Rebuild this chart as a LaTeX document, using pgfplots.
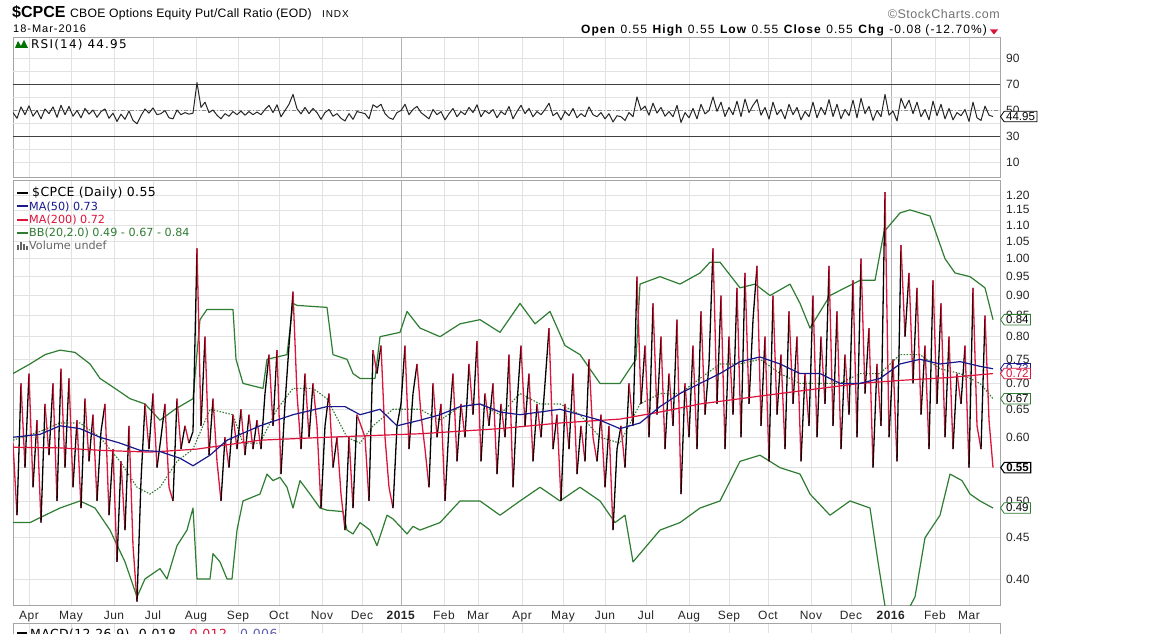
\documentclass[border=0pt]{standalone}
\usepackage{pgfplots}
\usepackage{pgfplotstable}
\pgfplotsset{compat=1.18}
\usepackage{fontspec}
\setmainfont{Liberation Sans}
\newfontfamily\verd{DejaVu Sans}
\newfontfamily\verdL[LetterSpace=3]{DejaVu Sans}
\newfontfamily\verdW[LetterSpace=10]{DejaVu Sans}
\newfontfamily\hdr[LetterSpace=9]{Liberation Sans}
\newfontfamily\scsp[LetterSpace=4]{Liberation Sans}
\newfontfamily\scspa[LetterSpace=2]{Liberation Sans}
\usetikzlibrary{shapes.symbols}
\definecolor{scred}{RGB}{220,20,60}
\definecolor{scblue}{RGB}{25,25,140}
\definecolor{scgreen}{RGB}{46,125,50}
\definecolor{gridc}{RGB}{226,226,226}
\definecolor{borderc}{RGB}{165,165,165}
\definecolor{volg}{RGB}{100,100,100}

% ---------- data ----------
\pgfplotstableread{
i y
0 0.59
2 0.48
4 0.70
6 0.55
8 0.72
10 0.52
12 0.63
14 0.47
16 0.66
18 0.57
20 0.70
22 0.50
24 0.73
26 0.55
28 0.71
30 0.52
32 0.63
34 0.49
36 0.67
38 0.56
40 0.64
42 0.50
44 0.61
46 0.66
48 0.48
50 0.58
52 0.42
54 0.56
56 0.46
58 0.62
60 0.44
62 0.375
64 0.53
66 0.66
68 0.58
70 0.68
72 0.55
74 0.60
76 0.66
78 0.52
80 0.50
82 0.67
84 0.58
86 0.62
88 0.59
90 0.61
92 1.03
94 0.62
96 0.80
98 0.57
100 0.67
102 0.56
104 0.50
106 0.60
108 0.55
110 0.64
112 0.58
114 0.65
116 0.57
118 0.64
120 0.58
122 0.63
124 0.58
126 0.68
128 0.76
130 0.62
132 0.77
134 0.54
136 0.66
138 0.78
140 0.91
142 0.68
144 0.58
146 0.72
148 0.60
150 0.70
152 0.62
154 0.49
156 0.62
158 0.68
160 0.55
162 0.60
164 0.51
166 0.46
168 0.60
170 0.49
172 0.64
174 0.62
176 0.60
178 0.50
180 0.77
182 0.72
184 0.78
186 0.60
188 0.52
190 0.49
192 0.62
194 0.66
196 0.78
198 0.58
200 0.68
202 0.74
204 0.64
206 0.58
208 0.52
210 0.70
212 0.60
214 0.66
216 0.50
218 0.62
220 0.72
222 0.56
224 0.66
226 0.60
228 0.74
230 0.64
232 0.79
234 0.56
236 0.68
238 0.62
240 0.70
242 0.54
244 0.66
246 0.60
248 0.76
250 0.52
252 0.66
254 0.78
256 0.62
258 0.72
260 0.56
262 0.66
264 0.60
266 0.70
268 0.82
270 0.58
272 0.64
274 0.50
276 0.66
278 0.58
280 0.72
282 0.54
284 0.62
286 0.56
288 0.75
290 0.60
292 0.56
294 0.64
296 0.52
298 0.62
300 0.46
302 0.58
304 0.62
306 0.55
308 0.70
310 0.62
312 0.95
314 0.66
316 0.78
318 0.60
320 0.88
322 0.64
324 0.80
326 0.58
328 0.72
330 0.62
332 0.84
334 0.51
336 0.70
338 0.60
340 0.78
342 0.58
344 0.86
346 0.64
348 0.74
350 1.03
352 0.66
354 0.90
356 0.58
358 0.80
360 0.64
362 0.92
364 0.60
366 0.96
368 0.66
370 0.84
372 0.98
374 0.62
376 0.80
378 0.56
380 0.90
382 0.64
384 0.76
386 0.58
388 0.86
390 0.66
392 0.80
394 0.56
396 0.72
398 0.62
400 0.90
402 0.60
404 0.80
406 0.66
408 0.98
410 0.62
412 0.86
414 0.58
416 0.76
418 0.64
420 0.94
422 0.60
424 1.00
426 0.68
428 0.82
430 0.55
432 0.74
434 0.62
436 1.21
438 0.60
440 0.75
442 0.56
444 1.04
446 0.80
448 0.96
450 0.70
452 0.92
454 0.64
456 0.78
458 0.58
460 0.94
462 0.66
464 0.88
466 0.60
468 0.80
470 0.58
472 0.72
474 0.66
476 0.78
478 0.55
480 0.92
482 0.62
484 0.58
486 0.85
488 0.63
490 0.55
}\price

\pgfplotstablecreatecol[
  create col/assign/.code={%
    \getthisrow{y}\cur
    \getnextrow{y}\nxt
    \edef\tmpn{\nxt}%
    \ifx\tmpn\empty
      \def\res{0}%
    \else
      \pgfmathparse{(\nxt<\cur)}\let\res\pgfmathresult
    \fi
    \pgfkeyslet{/pgfplots/table/create col/next content}\res
  }]{c}\price

\pgfplotstableread{
i r
0 48
2 43.6
4 52.4
6 46.4
8 53.2
10 45.2
12 49.6
14 43.2
16 50.8
18 47.2
20 52.4
22 44.4
24 53.6
26 46.4
28 52.8
30 45.2
32 49.6
34 44
36 51.2
38 46.8
40 50
42 44.4
44 48.8
46 50.8
48 43.6
50 47.6
52 41.2
54 46.8
56 42.8
58 49.2
60 42
62 39.4
64 45.6
66 50.8
68 47.6
70 51.6
72 46.4
74 47.2
76 49.6
78 44
80 43.2
82 50
84 46.4
86 48
88 46.8
90 47.6
92 71
94 52
96 56
98 48
100 50
102 46
104 43.2
106 47.2
108 45.2
110 48.8
112 46.4
114 49.2
116 46
118 48.8
120 46.4
122 48.4
124 46.4
126 50.4
128 53.6
130 48
132 54
134 44.8
136 49.6
138 54.4
140 62
142 51
144 47
146 52
148 47.2
150 51.2
152 48
154 42.8
156 48
158 50.4
160 45.2
162 47.2
164 43.6
166 41.6
168 47.2
170 42.8
172 48.8
174 48
176 47.2
178 43.2
180 54
182 52
184 54.4
186 47.2
188 44
190 42.8
192 48
194 49.6
196 54.4
198 46.4
200 50.4
202 52.8
204 48
206 45.6
208 43.2
210 50.4
212 46.4
214 48.8
216 42.4
218 47.2
220 51.2
222 44.8
224 48.8
226 46.4
228 52
230 48
232 54
234 44.8
236 49.6
238 47.2
240 50.4
242 44
244 48.8
246 46.4
248 52.8
250 43.2
252 48.8
254 53.6
256 47.2
258 51.2
260 44.8
262 48.8
264 46.4
266 50.4
268 55.2
270 45.6
272 48
274 42.4
276 48.8
278 45.6
280 51.2
282 44
284 47.2
286 44.8
288 52.4
290 46.4
292 44.8
294 48
296 43.2
298 47.2
300 40.8
302 45.6
304 44.8
306 42
308 48
310 44.8
312 60
314 50
316 53
318 46
320 55.2
322 47.6
324 52
326 45.2
328 48.8
330 44.8
332 53.6
334 40.4
336 48
338 44
340 51.2
342 43.2
344 54.4
346 47
348 49.6
350 60
352 49
354 56
356 45
358 52
360 46.4
362 56.8
364 45
366 58.4
368 48
370 53.6
372 58
374 46
376 52
378 43
380 56
382 46.4
384 50.4
386 43.2
388 54.4
390 46.4
392 52
394 42.4
396 48.8
398 44.8
400 56
402 44
404 52
406 46.4
408 58
410 45
412 54.4
414 43.2
416 50.4
418 45.6
420 57.6
422 44
424 59
426 47.2
428 52.8
430 42
432 49.6
434 44.8
436 62
438 46
440 49.2
442 41.6
444 59
446 51.2
448 57.6
450 47.2
452 56
454 44.8
456 50.4
458 42.4
460 56.8
462 45.6
464 54.4
466 43.2
468 51.2
470 42.4
472 48
474 45.6
476 50.4
478 41.2
480 56
482 44
484 42
486 53
488 46
490 44.95
}\rsi

\pgfplotstableread{
p v
13 0.583
60 0.582
100 0.578
150 0.575
197 0.580
260 0.595
327 0.600
420 0.606
500 0.615
560 0.625
620 0.632
660 0.645
700 0.660
760 0.675
800 0.685
860 0.700
900 0.706
950 0.712
993 0.720
}\matwo

\pgfplotstableread{
p v
13 0.600
40 0.605
60 0.620
80 0.615
100 0.600
120 0.590
140 0.578
160 0.576
180 0.565
193 0.553
210 0.570
227 0.595
260 0.620
293 0.640
327 0.655
345 0.655
360 0.640
380 0.650
397 0.620
420 0.630
440 0.640
460 0.655
480 0.660
500 0.645
520 0.640
540 0.645
560 0.650
580 0.640
600 0.630
620 0.615
640 0.625
660 0.655
680 0.680
700 0.700
720 0.720
740 0.745
760 0.755
780 0.740
800 0.720
820 0.720
840 0.700
860 0.700
880 0.710
900 0.740
920 0.750
940 0.740
960 0.745
980 0.735
993 0.730
}\mafif

\pgfplotstableread{
p v
13 0.72
30 0.74
45 0.76
60 0.77
75 0.765
90 0.74
100 0.71
115 0.69
130 0.67
145 0.66
160 0.63
175 0.65
193 0.67
200 0.84
207 0.865
233 0.865
236 0.75
243 0.70
263 0.69
267 0.75
287 0.76
293 0.88
297 0.875
327 0.87
333 0.76
347 0.75
353 0.72
360 0.71
375 0.71
380 0.80
400 0.81
407 0.86
420 0.82
440 0.80
460 0.83
480 0.84
500 0.81
520 0.88
535 0.83
550 0.86
565 0.78
580 0.76
600 0.70
620 0.70
636 0.75
640 0.93
660 0.95
680 0.93
700 0.96
710 0.99
720 0.99
740 0.92
755 0.93
770 0.90
790 0.93
800 0.88
810 0.82
830 0.90
845 0.92
860 0.94
875 0.94
884 1.08
900 1.14
910 1.15
930 1.13
945 1.00
955 0.96
970 0.95
985 0.92
993 0.84
}\bbup

\pgfplotstableread{
p v
13 0.47
30 0.47
45 0.48
60 0.49
80 0.50
95 0.49
110 0.46
125 0.42
137 0.38
145 0.40
160 0.412
167 0.40
177 0.44
187 0.46
193 0.49
197 0.40
210 0.40
213 0.43
220 0.42
227 0.40
232 0.40
237 0.46
243 0.50
260 0.51
267 0.54
273 0.53
280 0.535
287 0.52
293 0.49
300 0.53
310 0.51
320 0.49
327 0.487
343 0.485
347 0.46
353 0.455
360 0.47
370 0.46
377 0.44
387 0.48
393 0.475
400 0.465
407 0.455
413 0.465
420 0.46
440 0.47
460 0.50
480 0.50
500 0.48
520 0.50
540 0.52
560 0.50
580 0.52
600 0.50
615 0.47
625 0.48
633 0.42
640 0.43
660 0.46
680 0.47
700 0.49
720 0.50
740 0.56
760 0.57
780 0.55
800 0.54
810 0.51
830 0.48
850 0.50
870 0.49
878 0.42
885 0.37
893 0.35
905 0.36
915 0.38
925 0.45
940 0.48
950 0.54
962 0.53
970 0.51
980 0.50
993 0.49
}\bblo

\pgfplotstableread{
p v
13 0.595
40 0.61
60 0.625
80 0.625
100 0.60
120 0.56
137 0.52
150 0.51
160 0.52
177 0.56
193 0.58
210 0.65
233 0.64
243 0.59
260 0.59
277 0.65
293 0.69
313 0.69
327 0.67
347 0.60
360 0.59
373 0.62
393 0.65
420 0.65
440 0.63
460 0.655
480 0.66
500 0.64
520 0.68
540 0.66
560 0.66
580 0.64
600 0.60
620 0.59
640 0.66
660 0.68
680 0.68
700 0.71
720 0.74
740 0.74
760 0.75
780 0.72
800 0.70
820 0.70
840 0.70
860 0.72
880 0.72
900 0.76
920 0.76
940 0.73
960 0.72
980 0.70
993 0.67
}\bbmid

\tikzset{
  tag/.style={signal, signal to=west, signal pointer angle=110, draw=#1, fill=white,
    line width=0.8pt, inner ysep=1.2pt, inner xsep=2pt,
    font=\fontsize{11.5}{11.5}\selectfont, anchor=west},
}
\pgfplotsset{
  scpanel/.style={
    scale only axis, width=987pt, xmin=0, xmax=493.5,
    xtick={8,29,50.5,70,91.5,112.5,133,154.5,174.5,194,215.5,232.5,254.5,275,296,316.5,338,358,377.5,399,419,439,461,478},
    grid=major, major grid style={draw=gridc, line width=0.6pt},
    major tick length=0pt, tick style={draw=none},
    axis line style={draw=borderc, line width=0.7pt},
    extra x ticks={194,439}, extra x tick labels={},
    extra x tick style={grid=major, major grid style={draw=black!30, line width=0.7pt}},
    yticklabel pos=right,
    yticklabel style={anchor=west, xshift=6pt, inner sep=0pt, font=\fontsize{12}{12}\selectfont, text=black!85},
    clip mode=individual,
  },
}

\begin{document}
\begin{tikzpicture}
\begin{scope}
\clip (0pt,0pt) rectangle (1158pt,633pt);
\fill[white] (0pt,0pt) rectangle (1158pt,633pt);

% ---------- header ----------
\node[anchor=base west, inner sep=0] at (12pt,615.7pt) {\fontsize{16}{16}\selectfont\bfseries \$CPCE};
\node[anchor=base west, inner sep=0] at (70pt,615.7pt) {\scspa\fontsize{12.2}{12.2}\selectfont CBOE Options Equity Put/Call Ratio (EOD)};
\node[anchor=base west, inner sep=0] at (322pt,615.7pt) {\hdr\fontsize{10}{10}\selectfont INDX};
\node[anchor=base west, inner sep=0] at (13pt,600pt) {\hdr\fontsize{11}{11}\selectfont 18-Mar-2016};
\node[anchor=base east, inner sep=0, text=black!55] at (1000pt,614pt) {\scsp\fontsize{12.5}{12.5}\selectfont ©StockCharts.com};
\node[anchor=base east, inner sep=0] at (987pt,599pt) {\hdr\fontsize{12}{12}\selectfont \textbf{Open} 0.55\ \textbf{High} 0.55\ \textbf{Low} 0.55\ \textbf{Close} 0.55\ \textbf{Chg} -0.08 (-12.70\%)};
\fill[scred] (990pt,603.5pt) -- (998pt,603.5pt) -- (994pt,598.5pt) -- cycle;

% ---------- RSI panel ----------
\begin{axis}[scpanel, at={(13pt,456pt)}, anchor=south west, height=140pt,
  ymin=-1.54, ymax=106.15, xticklabels={},
  ytick={10,30,50,70,90}, yticklabels={10,30,50,70,90},
  extra y ticks={20,40,60,80}, extra y tick labels={},
]
\draw[black!75, line width=0.8pt] (axis cs:0,70) -- (axis cs:493.5,70);
\draw[black!75, line width=0.8pt] (axis cs:0,30) -- (axis cs:493.5,30);
\draw[black!45, line width=0.6pt, dash pattern=on 4pt off 2pt on 1pt off 2pt] (axis cs:0,50) -- (axis cs:493.5,50);
\addplot[black!85, line width=1pt, line join=round] table[x=i, y=r] {\rsi};
\node[tag=black] at (axis cs:493.5,44.95) {44.95};
\end{axis}
% RSI label
\fill[green!45!black] (15pt,585pt) -- (18pt,592pt) -- (21pt,587pt) -- (24pt,593pt) -- (28pt,585pt) -- cycle;
\node[anchor=base west, inner sep=0] at (31pt,584pt) {\verdW\fontsize{12}{12}\selectfont RSI(14) 44.95};

% ---------- main panel ----------
\begin{axis}[scpanel, at={(13pt,28pt)}, anchor=south west, height=425pt,
  ymode=log, ymin=0.3713, ymax=1.2526,
  ytick={0.40,0.45,0.50,0.55,0.60,0.65,0.70,0.75,0.80,0.85,0.90,0.95,1.00,1.05,1.10,1.15,1.20},
  yticklabels={0.40,0.45,0.50,0.55,0.60,0.65,0.70,0.75,0.80,0.85,0.90,0.95,1.00,1.05,1.10,1.15,1.20},
  xticklabels={Apr,May,Jun,Jul,Aug,Sep,Oct,Nov,Dec,\textbf{2015},Feb,Mar,Apr,May,Jun,Jul,Aug,Sep,Oct,Nov,Dec,\textbf{2016},Feb,Mar},
  xticklabel style={anchor=base, yshift=-14pt, inner sep=0pt, font=\scsp\fontsize{12}{12}\selectfont, text=black!85},
  point meta min=0, point meta max=1,
  colormap={updown}{color=(black) color=(scred)},
]
\addplot[scgreen, line width=1.2pt, line join=round] table[x expr=(\thisrow{p}-13)/2, y=v] {\bbup};
\addplot[scgreen, line width=1.2pt, line join=round] table[x expr=(\thisrow{p}-13)/2, y=v] {\bblo};
\addplot[scgreen, line width=1.1pt, dash pattern=on 1.5pt off 1.5pt] table[x expr=(\thisrow{p}-13)/2, y=v] {\bbmid};
\addplot[mesh, shader=flat corner, point meta=\thisrow{c}, line width=1.3pt, line join=round] table[x=i, y=y] {\price};
\addplot[scred, line width=1.2pt] table[x expr=(\thisrow{p}-13)/2, y=v] {\matwo};
\addplot[scblue, line width=1.2pt] table[x expr=(\thisrow{p}-13)/2, y=v] {\mafif};
\node[tag=scgreen] at (axis cs:493.5,0.84) {0.84};
\node[tag=scblue, text=scblue] at (axis cs:493.5,0.73) {0.73};
\node[tag=scred, text=scred] at (axis cs:493.5,0.72) {0.72};
\node[tag=scgreen] at (axis cs:493.5,0.67) {0.67};
\node[tag=black, line width=1.1pt, font=\fontsize{11.5}{11.5}\selectfont\bfseries] at (axis cs:493.5,0.55) {0.55};
\node[tag=scgreen] at (axis cs:493.5,0.49) {0.49};
\end{axis}

% legend of main panel
\draw[black, line width=2pt] (17pt,440pt) -- (28pt,440pt);
\node[anchor=base west, inner sep=0] at (32pt,436.3pt) {\verdL\fontsize{12.5}{12.5}\selectfont \$CPCE (Daily) 0.55};
\draw[scblue, line width=2pt] (17pt,426.7pt) -- (28pt,426.7pt);
\node[anchor=base west, inner sep=0, text=scblue] at (29pt,423pt) {\verd\fontsize{11.2}{11.2}\selectfont MA(50) 0.73};
\draw[scred, line width=2pt] (17pt,413.4pt) -- (28pt,413.4pt);
\node[anchor=base west, inner sep=0, text=scred] at (29pt,409.7pt) {\verd\fontsize{11.2}{11.2}\selectfont MA(200) 0.72};
\draw[scgreen, line width=2pt] (17pt,400.1pt) -- (28pt,400.1pt);
\node[anchor=base west, inner sep=0, text=scgreen] at (29pt,396.4pt) {\verd\fontsize{11.2}{11.2}\selectfont BB(20,2.0) 0.49 - 0.67 - 0.84};
\fill[volg] (17pt,383.3pt) rectangle (19pt,388pt);
\fill[volg] (20pt,383.3pt) rectangle (22pt,391pt);
\fill[volg] (23pt,383.3pt) rectangle (25pt,389.5pt);
\fill[volg] (26pt,383.3pt) rectangle (28pt,387pt);
\node[anchor=base west, inner sep=0, text=volg] at (29pt,383.1pt) {\verd\fontsize{11.2}{11.2}\selectfont Volume undef};

% ---------- MACD panel (top edge only visible) ----------
\foreach \t in {8,29,50.5,70,91.5,112.5,133,154.5,174.5,194,215.5,232.5,254.5,275,296,316.5,338,358,377.5,399,419,439,461,478}
  \draw[gridc, line width=0.6pt] ({13pt+2pt*\t},0pt) -- ({13pt+2pt*\t},10pt);
\draw[borderc, line width=0.7pt] (13pt,-2pt) -- (13pt,10pt) -- (1000pt,10pt) -- (1000pt,-2pt);
\fill[black] (17pt,-5pt) rectangle (27pt,1pt);
\node[anchor=base west, inner sep=0] at (30pt,-5pt) {\verdL\fontsize{12.5}{12.5}\selectfont MACD(12,26,9) -0.018, \textcolor{scred}{-0.012}, \textcolor{scblue!70}{-0.006}};
\end{scope}
\pgfresetboundingbox
\path[use as bounding box] (0pt,0pt) rectangle (1158pt,633pt);
\end{tikzpicture}
\end{document}
